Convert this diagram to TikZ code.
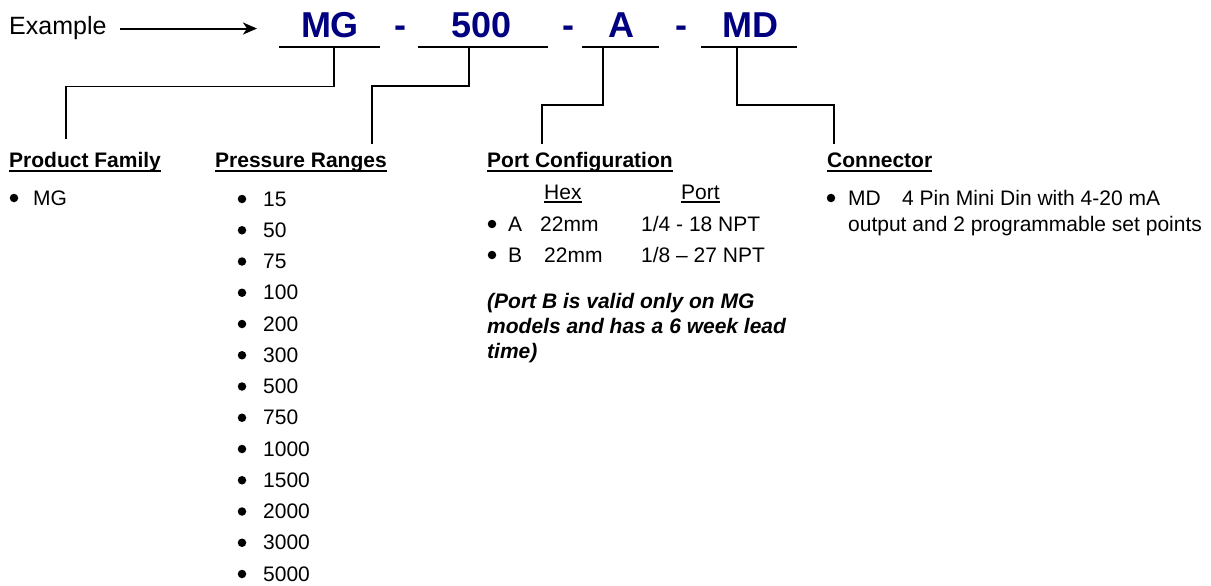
\documentclass[tikz,border=0pt]{standalone}
\usepackage{fontspec}
\setmainfont{Liberation Sans}
\usetikzlibrary{arrows.meta}
\definecolor{codeblue}{RGB}{0,0,128}
\begin{document}
\begin{tikzpicture}[x=1pt,y=-1pt,
  txt/.style={inner sep=0pt, anchor=base west, font=\fontsize{21}{25}\selectfont},
  head/.style={txt, font=\fontsize{21}{25}\selectfont\bfseries},
  note/.style={txt, font=\fontsize{21}{25}\selectfont\bfseries\itshape},
  code/.style={inner sep=0pt, anchor=base, text=codeblue, font=\fontsize{36}{40}\selectfont\bfseries},
  dot/.style={circle, fill=black, inner sep=0pt, minimum size=8.5pt},
  codeline/.style={line width=2pt},
  link/.style={line width=1.4pt},
  hline/.style={line width=1.8pt},
  sline/.style={line width=1.1pt},
  arr/.style={line width=2pt, -{Stealth[length=14pt,width=12pt,inset=4pt]}}]
\useasboundingbox (0,0) rectangle (1211,586);

% top line
\node[inner sep=0pt, anchor=base west, font=\fontsize{25}{29}\selectfont] (ex) at (9,35) {Example};
\coordinate (arrEnd) at (257,28);
\draw[arr] ([xshift=13pt]ex.east) -- (arrEnd |- ex.east);

\node[code] (cMG) at (330,38) {MG};
\node[code] (d1) at (400,38) {-};
\node[code] (c500) at (481.5,38) {500};
\node[code] (d2) at (568,38) {-};
\node[code] (cA) at (621.5,38) {A};
\node[code] (d3) at (681,38) {-};
\node[code] (cMD) at (750,38) {MD};

\draw[codeline] (279,46.7) -- (380,46.7);
\draw[codeline] (418,46.7) -- (548,46.7);
\draw[codeline] (582,46.7) -- (659,46.7);
\draw[codeline] (701,46.7) -- (797,46.7);

% connectors
\coordinate (mgstem) at (334,46.7);
\coordinate (prstem) at (469,46.7);
\coordinate (astem) at (603,46.7);
\coordinate (mdstem) at (737,46.7);
\coordinate (pfend) at (66,139);
\coordinate (prend) at (372,144);
\coordinate (pcend) at (542,144);
\coordinate (cnend) at (834,144);
\draw[link] (mgstem) -- ++(0,40) -| (pfend);
\draw[link] (prstem) -- ++(0,39.3) -| (prend);
\draw[link] (astem) -- ++(0,58.3) -| (pcend);
\draw[link] (mdstem) -- ++(0,58.3) -| (cnend);

% headings
\node[head] (pf) at (9,167) {Product Family};
\node[head] (pr) at (215,167) {Pressure Ranges};
\node[head] (pc) at (487,167) {Port Configuration};
\node[head] (cn) at (827,167) {Connector};
\foreach \h in {pf,pr,pc,cn}
  \draw[hline] ([yshift=-4pt]\h.base west) -- ([yshift=-4pt]\h.base east);

% product family
\node[dot] (pfb) at (14,198) {};
\node[txt] (pfv) at (33,205) {MG};

% pressure ranges
\foreach \v [count=\i from 0] in {15,50,75,100,200,300,500,750,1000,1500,2000,3000,5000}{
  \node[dot] (pb\i) at (242,{199+31.25*\i}) {};
  \node[txt] (pv\i) at (263,{206+31.25*\i}) {\v};
}

% port configuration
\node[txt] (hex) at (544,199) {Hex};
\node[txt] (port) at (681,199) {Port};
\foreach \h in {hex,port}
  \draw[sline] ([yshift=-3pt]\h.base west) -- ([yshift=-3pt]\h.base east);
\node[dot] (pab) at (492,224) {};
\node[txt] (pa) at (508,231) {A};
\node[txt] (pah) at (540,231) {22mm};
\node[txt] (pap) at (641,231) {1/4 - 18 NPT};
\node[dot] (pbb) at (492,255) {};
\node[txt] (pbl) at (508,262) {B};
\node[txt] (pbh) at (544,262) {22mm};
\node[txt] (pbp) at (641,262) {1/8 – 27 NPT};
\node[note] (n1) at (487,308) {(Port B is valid only on MG};
\node[note] (n2) at (487,333) {models and has a 6 week lead};
\node[note] (n3) at (487,358) {time)};

% connector
\node[dot] (cnb) at (831,198) {};
\node[txt] (cnv) at (848,205) {MD};
\node[txt] (cnd) at (902,205) {4 Pin Mini Din with 4-20 mA};
\node[txt] (cnd2) at (848,231) {output and 2 programmable set points};
\end{tikzpicture}
\end{document}
